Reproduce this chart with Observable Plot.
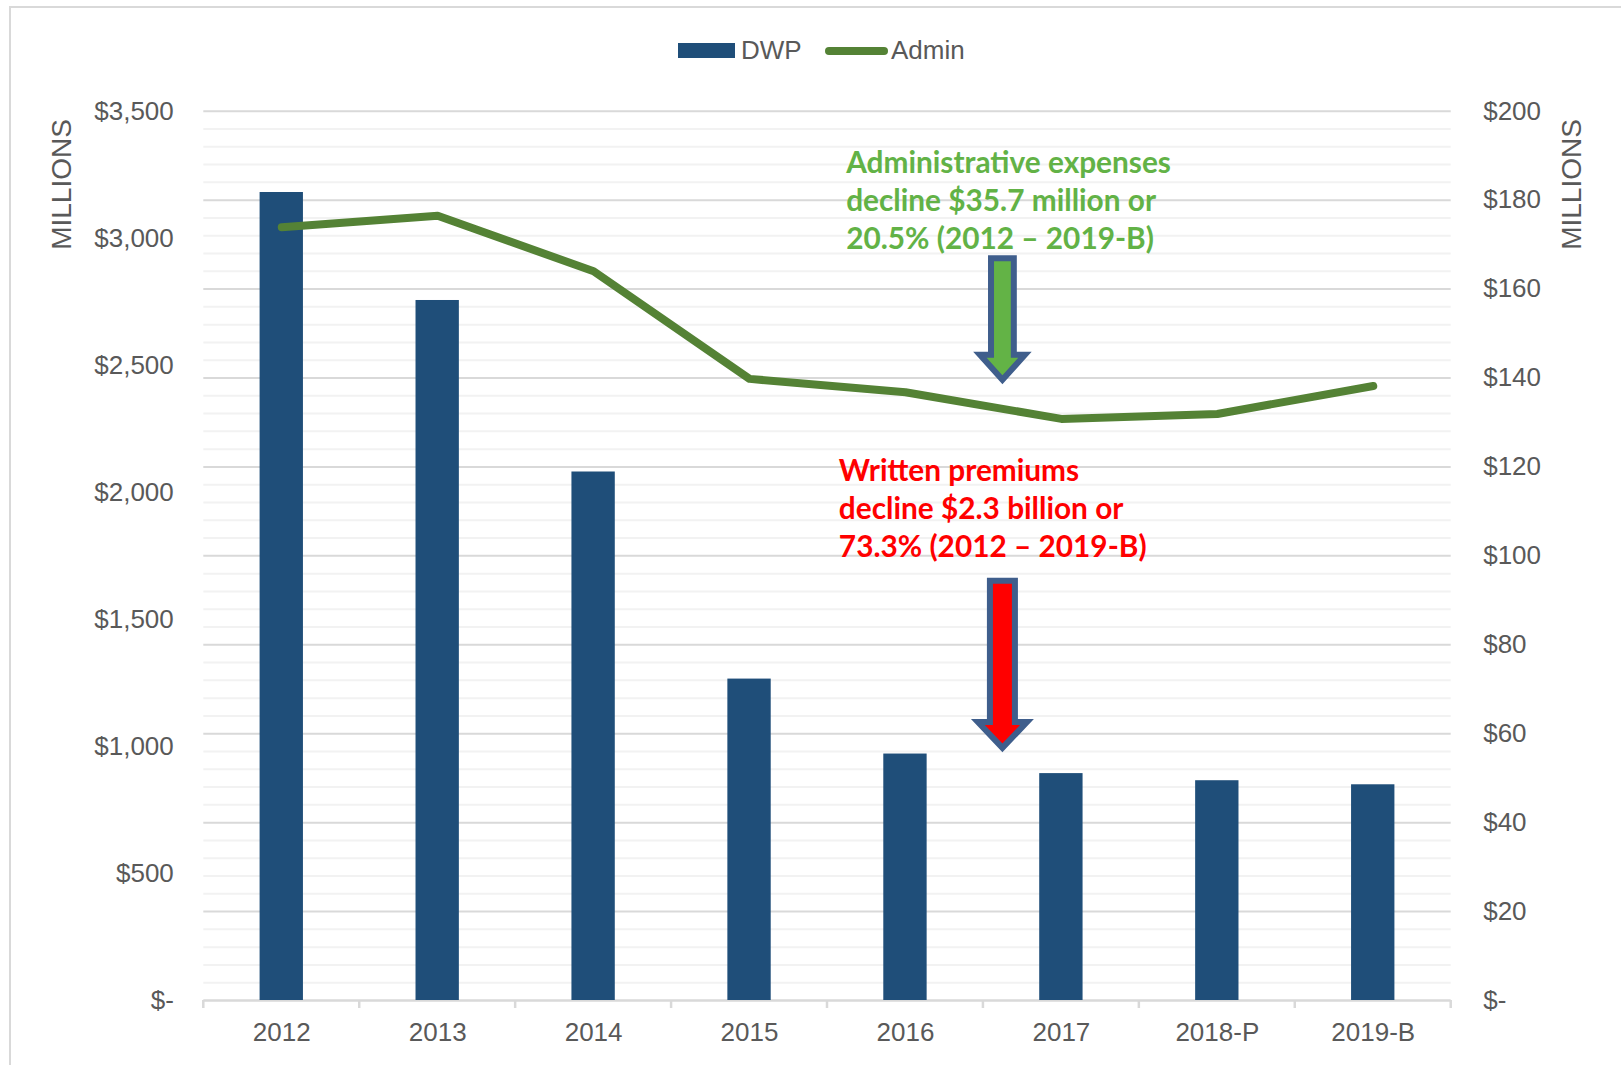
<!DOCTYPE html>
<html>
<head>
<meta charset="utf-8">
<script src="https://cdn.jsdelivr.net/npm/d3@7"></script>
<script src="https://cdn.jsdelivr.net/npm/@observablehq/plot@0.6"></script>
<style>
html, body { margin: 0; padding: 0; background: #fff; width: 1621px; height: 1065px; overflow: hidden; }
#frame { position: absolute; left: 9px; top: 6px; width: 1700px; height: 1200px; border: 2.5px solid #d9d9d9; box-sizing: border-box; }
#legend { position: absolute; left: 0; top: 0; width: 1621px; height: 80px; font-family: "Liberation Sans", Arial, sans-serif; font-size: 26px; color: #595959; }
#legend .item { position: absolute; top: 37px; line-height: 26px; white-space: nowrap; }
#chart { position: absolute; left: 0; top: 80px; }
</style>
</head>
<body>
<div id="frame"></div>
<div id="legend"></div>
<div id="chart"></div>
<script>
// ---- data ----
const years = ["2012", "2013", "2014", "2015", "2016", "2017", "2018-P", "2019-B"];
const dwp = [3180, 2755, 2080, 1265, 970, 893, 865, 849];          // left axis, $ millions
const admin = [173.9, 176.5, 164.0, 139.8, 136.8, 130.8, 131.9, 138.2]; // right axis, $ millions
const leftTicks = [0, 500, 1000, 1500, 2000, 2500, 3000, 3500];
const rightTicks = [0, 20, 40, 60, 80, 100, 120, 140, 160, 180, 200];
const seriesNames = ["DWP", "Admin"];
const axisTitle = "MILLIONS";

const noteTexts = [
  "Administrative expenses\ndecline $35.7 million or\n20.5% (2012 – 2019-B)",
  "Written premiums\ndecline $2.3 billion or\n73.3% (2012 – 2019-B)"
];
const noteYear = ["2016", "2016"];
const noteTop = [192.2, 123.0];          // right-axis units
const arrowYear = ["2016", "2016"];
const arrowFrom = [166.8, 94.3];         // right-axis units
const arrowNeck = [145.1, 62.5];
const arrowTo = [139.5, 56.7];

// ---- styles ----
const barColor = "#1F4E79";
const lineColor = "#548235";
const noteColors = ["#62B246", "#FF0000"];
const arrowFills = ["#63B346", "#FF0000"];
const arrowStroke = "#3F5E8C";
const textColor = "#595959";

const W = 1621, H = 985;
const mL = 203.3, mR = 170.3, mT = 30.7, mB = 65;
const step = (W - mL - mR) / years.length;
const PI = 0.722, PO = PI / 2;
const ratio = leftTicks[leftTicks.length - 1] / rightTicks[rightTicks.length - 1];

const rows = years.map((year, i) => ({year, dwp: dwp[i], admin: admin[i]}));
const fmt = v => v === 0 ? "$-" : "$" + d3.format(",")(v);

// ---- legend ----
const legend = d3.select("#legend");
legend.append("div").style("position", "absolute").style("left", "678px").style("top", "43px")
  .style("width", "57px").style("height", "15px").style("background", barColor);
legend.append("div").attr("class", "item").style("left", "741px").text(seriesNames[0]);
legend.append("div").style("position", "absolute").style("left", "825px").style("top", "47px")
  .style("width", "63px").style("height", "8px").style("border-radius", "4px").style("background", lineColor);
legend.append("div").attr("class", "item").style("left", "891px").text(seriesNames[1]);

// ---- extras: boundary ticks & block arrows ----
function extras(index, scales) {
  const x = scales.x, y = scales.y;
  const st = x.step ? x.step() : step;
  const bw = x.bandwidth ? x.bandwidth() : st * (1 - PI);
  const g = d3.create("svg:g");
  const xs = years.map(d => x(d) - (st - bw) / 2);
  xs.push(xs[xs.length - 1] + st);
  const y0 = y(0);
  g.selectAll("line").data(xs).join("line")
    .attr("x1", d => d).attr("x2", d => d).attr("y1", y0).attr("y2", y0 + 8)
    .attr("stroke", "#d9d9d9").attr("stroke-width", 2.5);
  const shaft = [11.4, 12.5], head = [22.5, 24.5];
  arrowYear.forEach((yr, i) => {
    const cx = x(yr) + bw / 2 + 0.625 * st;
    const yf = y(arrowFrom[i] * ratio), yn = y(arrowNeck[i] * ratio), yt = y(arrowTo[i] * ratio);
    const s = shaft[i], h = head[i];
    g.append("path")
      .attr("d", `M${cx - s},${yf}H${cx + s}V${yn}H${cx + h}L${cx},${yt}L${cx - h},${yn}H${cx - s}Z`)
      .attr("fill", arrowFills[i]).attr("stroke", arrowStroke).attr("stroke-width", 6)
      .attr("stroke-linejoin", "miter").attr("stroke-miterlimit", 10);
  });
  return g.node();
}

const minor = d3.range(4, 201, 4).filter(v => v % 20 !== 0).map(v => v * ratio);
const major = d3.range(20, 201, 20).map(v => v * ratio);

const noteFont = "Lato, 'Open Sans', sans-serif";
const noteFs = 29.8;

const plot = Plot.plot({
  width: W, height: H,
  marginLeft: mL, marginRight: mR, marginTop: mT, marginBottom: mB,
  style: {fontFamily: "'Liberation Sans', Arial, sans-serif", fontSize: "26px", color: textColor, background: "transparent", overflow: "visible"},
  x: {domain: years, paddingInner: PI, paddingOuter: PO, align: 0.5, round: false, axis: null},
  y: {domain: [0, 3500], axis: null},
  marks: [
    Plot.ruleY(minor, {stroke: "#f2f2f2", strokeWidth: 2}),
    Plot.ruleY(major, {stroke: "#d9d9d9", strokeWidth: 2}),
    Plot.ruleY([0], {stroke: "#d9d9d9", strokeWidth: 2.5}),
    Plot.barY(rows, {x: "year", y: "dwp", fill: barColor}),
    Plot.line(rows, {x: "year", y: d => d.admin * ratio, stroke: lineColor, strokeWidth: 8, strokeLinecap: "round", strokeLinejoin: "round"}),
    Plot.axisY(leftTicks, {anchor: "left", tickSize: 0, tickPadding: 30, tickFormat: fmt, label: null, fontSize: 26}),
    Plot.axisY(rightTicks.map(v => v * ratio), {anchor: "right", tickSize: 0, tickPadding: 32, tickFormat: v => fmt(Math.round(v / ratio)), label: null, fontSize: 26}),
    Plot.axisX({tickSize: 0, tickPadding: 22, label: null, fontSize: 26}),
    Plot.text([axisTitle], {text: d => d, frameAnchor: "top-left", dx: -141.6, dy: 73.3, rotate: -90, textAnchor: "middle", lineAnchor: "middle", fontSize: 28, fill: textColor}),
    Plot.text([axisTitle], {text: d => d, frameAnchor: "top-right", dx: 121, dy: 73.3, rotate: -90, textAnchor: "middle", lineAnchor: "middle", fontSize: 28, fill: textColor}),
    extras,
    Plot.text([0], {x: () => noteYear[0], y: () => noteTop[0] * ratio, text: () => noteTexts[0], dx: -59.3, textAnchor: "start", lineAnchor: "top", lineHeight: 1.28, fontFamily: noteFont, fontWeight: "bold", fontSize: noteFs, fill: noteColors[0]}),
    Plot.text([1], {x: () => noteYear[1], y: () => noteTop[1] * ratio, text: () => noteTexts[1], dx: -66.6, textAnchor: "start", lineAnchor: "top", lineHeight: 1.28, fontFamily: noteFont, fontWeight: "bold", fontSize: noteFs, fill: noteColors[1]})
  ]
});
document.getElementById("chart").appendChild(plot);
</script>
</body>
</html>
